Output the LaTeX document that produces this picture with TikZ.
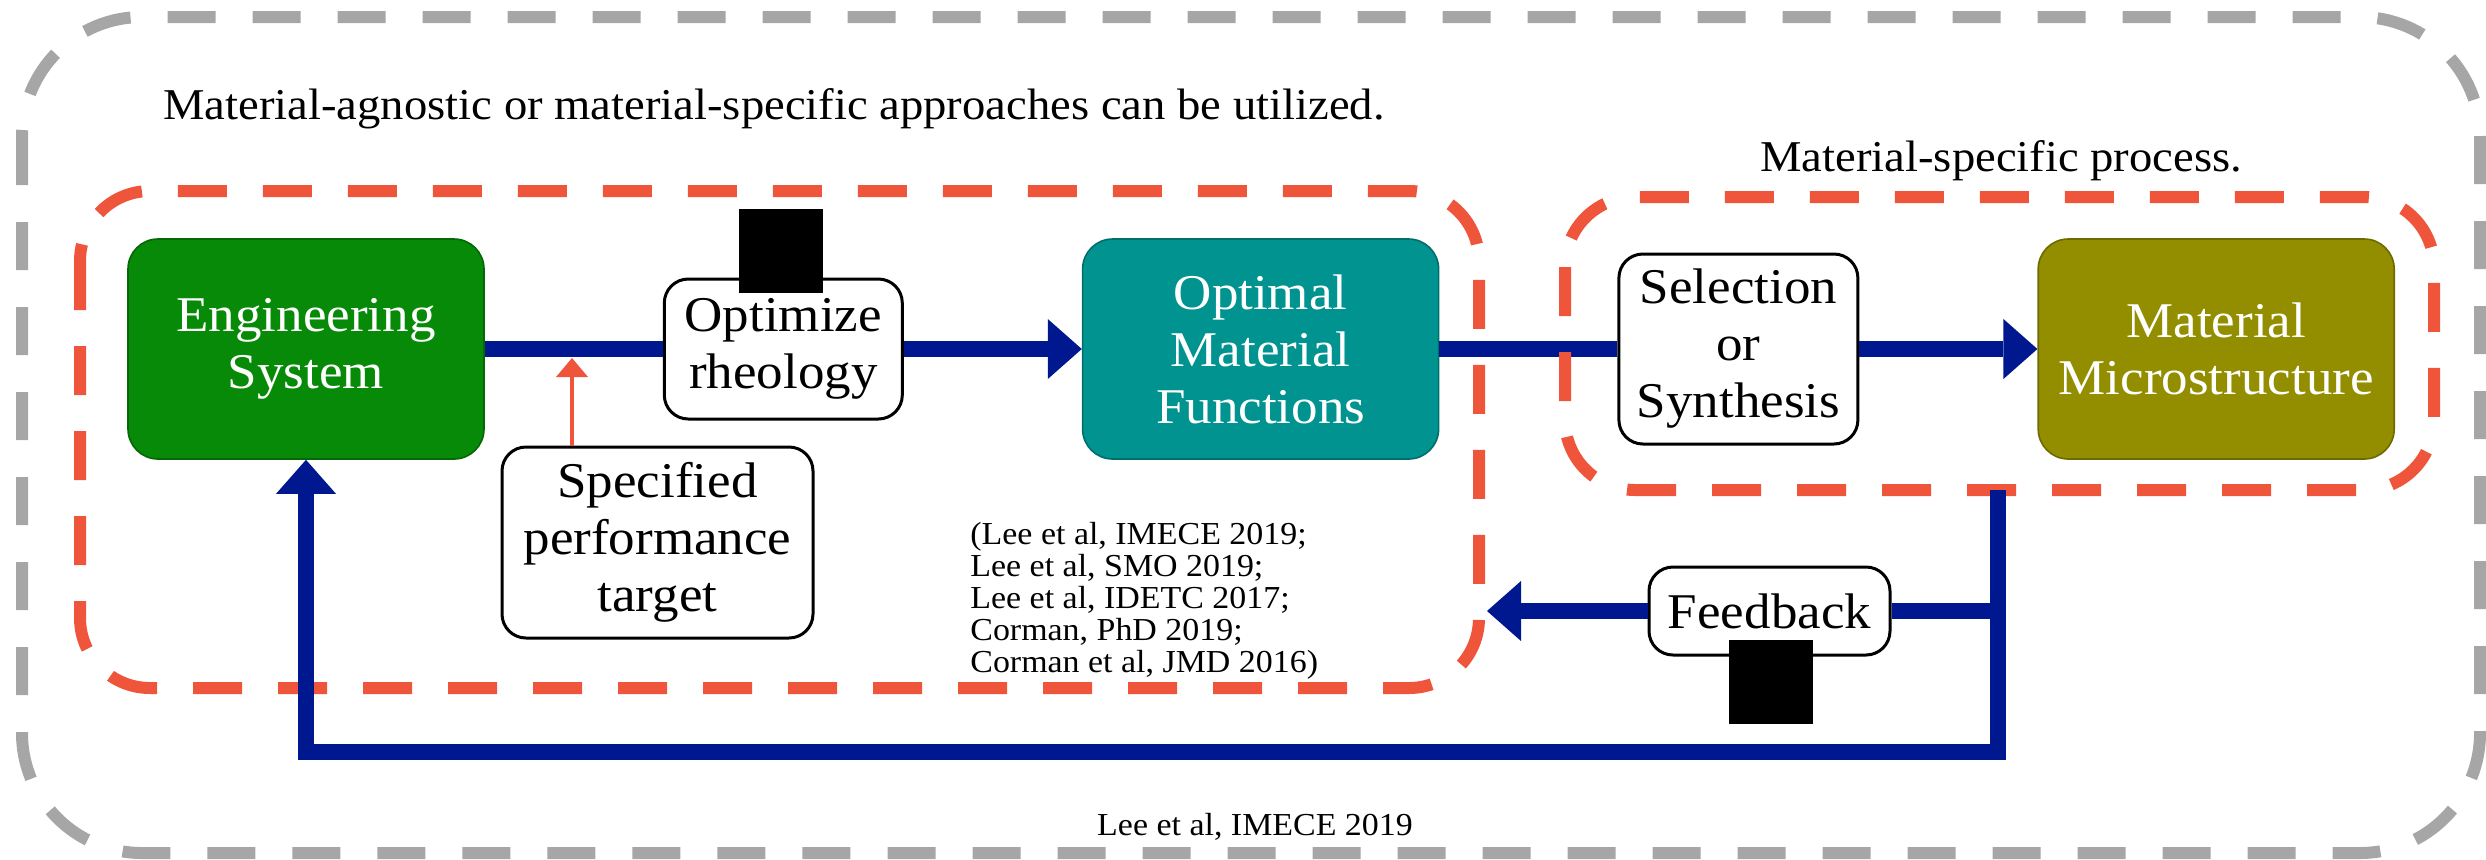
\documentclass[tikz,border=0pt]{standalone}
\usepackage{fontspec}
\setmainfont{Liberation Serif}[FakeStretch=1.06]
\usetikzlibrary{arrows.meta,positioning}

\definecolor{engGreen}{HTML}{078A07}
\definecolor{optTeal}{HTML}{00938F}
\definecolor{microOlive}{HTML}{938E00}
\definecolor{flowBlue}{HTML}{00188F}
\definecolor{zoneRed}{HTML}{EE553A}
\definecolor{frameGray}{HTML}{A6A6A6}

\begin{document}
\begin{tikzpicture}[
    x=0.5pt, y=-0.5pt,
    node distance = 89pt,
    block/.style={rectangle, draw=#1!75!black, fill=#1, rounded corners=15pt, line width=0.8pt, minimum width=178pt, minimum height=110pt, inner sep=0pt, text=white, align=center, font=\fontsize{25}{28.5}\selectfont},
    stage/.style={rectangle, draw, fill=white, rounded corners=12pt, line width=1.5pt, inner sep=0pt, align=center, font=\fontsize{25}{28.5}\selectfont},
    icon/.style={rectangle, fill=black, minimum size=42pt, inner sep=0pt},
    flow/.style={draw=flowBlue, line width=8pt},
    flowtip/.style={flow, -{Triangle[length=17pt, width=30pt, line width=0pt]}},
    target/.style={draw=zoneRed, line width=2pt, -{Triangle[length=9.5pt, width=16pt, line width=0pt]}},
    zone/.style={draw=zoneRed, line width=6pt, dash pattern=on 24.5pt off 18pt, rounded corners=35pt},
    frame/.style={draw=frameGray, line width=6pt, dash pattern=on 24pt off 18.5pt, rounded corners=60pt},
    note/.style={inner sep=0pt, font=\fontsize{22}{26}\selectfont}
  ]
    \useasboundingbox (0,0) rectangle (2486,859);
    \draw[frame] (22,17) rectangle (2480,853);

    % Nodes
    \node[block=engGreen] (eng) at (306,349) {Engineering\\System};
    \node[stage, minimum width=119pt, minimum height=70pt, right=of eng] (optimize) {Optimize\\rheology};
    \node[block=optTeal, right=of optimize] (optimal) {Optimal\\Material\\Functions};
    \node[stage, minimum width=119.5pt, minimum height=95pt, right=of optimal] (select) {Selection\\or\\Synthesis};
    \node[block=microOlive, right=of select] (micro) {Material\\Microstructure};
    \node[stage, minimum width=155.5pt, minimum height=95.5pt] (spec) at (657.5,542.5) {Specified\\performance\\target};
    \node[stage, minimum width=120.5pt, minimum height=44pt] (feedback) at (1769.5,611) {Feedback};

    \node[icon] (optimg) at (780.5,251) {};
    \node[icon] (fbimg) at (1770.5,681.5) {};

    % Labels
    \node[note, anchor=base west] (scope) at (163,119) {Material-agnostic or material-specific approaches can be utilized.};
    \node[note, anchor=base west] (speclabel) at (1760,171) {Material-specific process.};
    \node[inner sep=0pt, anchor=base west, align=left, font=\fontsize{16}{16}\selectfont] (refs) at (970,672) {(Lee et al, IMECE 2019;\\Lee et al, SMO 2019;\\Lee et al, IDETC 2017;\\Corman, PhD 2019;\\Corman et al, JMD 2016)};
    \node[inner sep=0pt, anchor=base, font=\fontsize{16}{19}\selectfont] (cite) at (1255,835) {Lee et al, IMECE 2019};

    % Arrows
    \draw[flow] (eng) -- (optimize);
    \draw[flowtip] (optimize) -- (optimal);
    \draw[flow] (optimal) -- (select);
    \draw[flowtip] (select) -- (micro);
    \coordinate (hit) at (572,358);
    \draw[target] (hit |- spec.north) -- (hit);

    % Zones
    \draw[zone] (80,191) rectangle (1479,688);
    \draw[zone] (1565,197) rectangle (2434,490);

    % Feedback loop
    \coordinate (tap) at (1998,490);
    \coordinate (low) at (1998,752);
    \coordinate (ret) at (1487,611);
    \draw[flowtip] (tap) -- (low) -| (eng.south);
    \draw[flow] (tap |- feedback) -- (feedback);
    \draw[flowtip] (feedback) -- (ret);
\end{tikzpicture}
\end{document}
